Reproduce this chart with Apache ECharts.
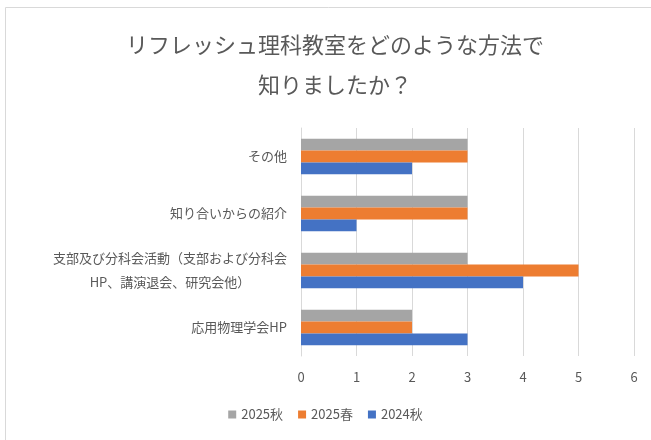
<!DOCTYPE html>
<html>
<head>
<meta charset="utf-8">
<script src="https://cdn.jsdelivr.net/npm/echarts@6/dist/echarts.min.js"></script>
<style>
  html, body { margin: 0; padding: 0; background: #fff; }
  #chart { width: 651px; height: 440px; }
</style>
</head>
<body>
<div id="chart"></div>
<script>
// categories listed bottom to top (ECharts y category axis)
const categories = ['応用物理学会HP', '支部及び分科会活動（支部および分科会HP、講演退会、研究会他）', '知り合いからの紹介', 'その他'];
const seriesNames = ['2025秋', '2025春', '2024秋'];
const autumn2025 = [2, 3, 3, 3];
const spring2025 = [2, 5, 3, 3];
const autumn2024 = [3, 4, 1, 2];
const xTicks = [0, 1, 2, 3, 4, 5, 6];

const colors = ['#A5A5A5', '#ED7D31', '#4472C4'];
const fontFamily = '"Noto Sans CJK JP", sans-serif';

const chart = echarts.init(document.getElementById('chart'));

function wrapLabel(v) {
  if (v.length > 20) {
    return '{c|' + v.slice(0, 18) + '}\n{c|' + v.slice(18) + '}';
  }
  return v;
}

const option = {
  animation: false,
  textStyle: { fontFamily: fontFamily },
  graphic: [{
    type: 'rect',
    shape: { x: 5.5, y: 7.5, width: 700, height: 500 },
    style: { fill: 'none', stroke: '#d9d9d9', lineWidth: 1 },
    silent: true
  }],
  title: {
    text: 'リフレッシュ理科教室をどのような方法で\n知りましたか？',
    left: 330,
    top: 20,
    textAlign: 'center',
    textStyle: { fontSize: 22, fontWeight: 'normal', color: '#595959', lineHeight: 40, fontFamily: fontFamily }
  },
  legend: {
    data: seriesNames,
    bottom: 14,
    left: 'center',
    icon: 'rect',
    itemWidth: 8,
    itemHeight: 8,
    itemGap: 15,
    textStyle: { fontSize: 13, color: '#595959', fontFamily: fontFamily }
  },
  grid: { left: 301, right: 17, top: 128, bottom: 84 },
  xAxis: {
    type: 'value',
    min: xTicks[0],
    max: xTicks[xTicks.length - 1],
    interval: 1,
    axisLine: { show: false },
    axisTick: { show: false },
    splitLine: { lineStyle: { color: '#d9d9d9' } },
    axisLabel: { fontSize: 13, color: '#595959', margin: 15 }
  },
  yAxis: {
    type: 'category',
    data: categories,
    axisLine: { lineStyle: { color: '#d9d9d9' } },
    axisTick: { show: false },
    axisLabel: {
      fontSize: 13,
      color: '#595959',
      margin: 14,
      lineHeight: 24,
      formatter: wrapLabel,
      rich: { c: { align: 'center', fontSize: 13, color: '#595959', lineHeight: 24 } }
    }
  },
  series: [
    { name: seriesNames[0], type: 'bar', data: autumn2025, itemStyle: { color: colors[0] }, barGap: '0%', barCategoryGap: '38%' },
    { name: seriesNames[1], type: 'bar', data: spring2025, itemStyle: { color: colors[1] } },
    { name: seriesNames[2], type: 'bar', data: autumn2024, itemStyle: { color: colors[2] } }
  ]
};

chart.setOption(option);
</script>
</body>
</html>
